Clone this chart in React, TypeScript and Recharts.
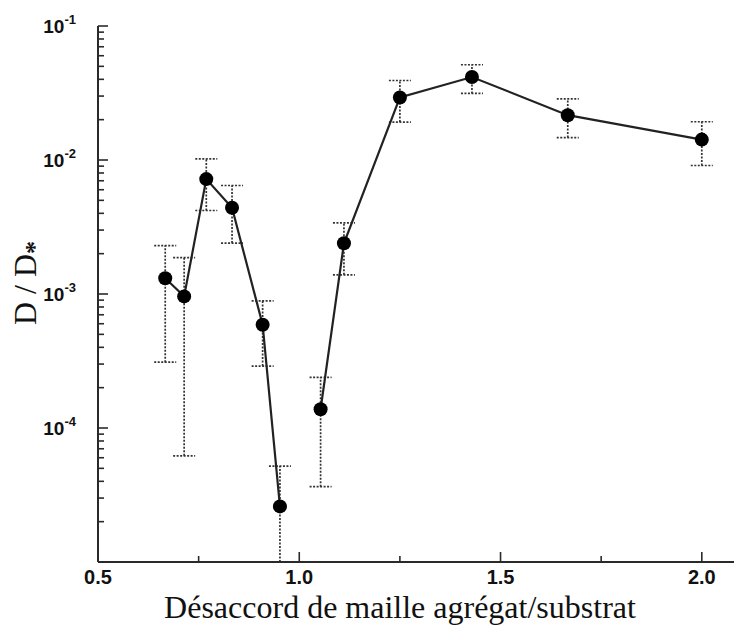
import React from "react";
import { ErrorBar, Line, LineChart, XAxis, YAxis } from "recharts";

// lattice mismatch (x) and D / D* (y), with lower / upper error bounds
const mismatch = [0.667, 0.714, 0.769, 0.833, 0.909, 0.952, 1.053, 1.111, 1.25, 1.429, 1.667, 2.0];
const ratio = [1.31e-3, 9.6e-4, 7.2e-3, 4.4e-3, 5.9e-4, 2.6e-5, 1.38e-4, 2.39e-3, 2.93e-2, 4.16e-2, 2.16e-2, 1.42e-2];
const ratioLow = [3.1e-4, 6.2e-5, 4.2e-3, 2.4e-3, 2.9e-4, 1e-5, 3.65e-5, 1.39e-3, 1.92e-2, 3.14e-2, 1.47e-2, 9.1e-3];
const ratioHigh = [2.3e-3, 1.87e-3, 1.02e-2, 6.45e-3, 8.9e-4, 5.2e-5, 2.39e-4, 3.4e-3, 3.92e-2, 5.14e-2, 2.86e-2, 1.93e-2];
const branch = [0, 0, 0, 0, 0, 0, 1, 1, 1, 1, 1, 1];

const xTicks = [0.5, 0.75, 1.0, 1.25, 1.5, 1.75, 2.0];
const xLabels = ["0.5", "", "1.0", "", "1.5", "", "2.0"];
const yDecades = [1e-5, 1e-4, 1e-3, 1e-2, 1e-1];
const yLabels = ["", "-4", "-3", "-2", "-1"];

const X_TITLE = "Désaccord de maille agrégat/substrat";

const points = mismatch.map((x, i) => ({
  x,
  y: ratio[i],
  err: [ratio[i] - ratioLow[i], ratioHigh[i] - ratio[i]],
  branch: branch[i],
}));
const leftPts = points.filter((p) => p.branch === 0);
const rightPts = points.filter((p) => p.branch === 1);

// log axis: decades plus 2..9 minor ticks
const yTicks: number[] = [];
yDecades.forEach((d, i) => {
  yTicks.push(d);
  if (i < yDecades.length - 1) for (let k = 2; k <= 9; k++) yTicks.push(+(d * k).toPrecision(3));
});

const AXIS = "#2a2a2a";
const SANS = "'Liberation Sans', Arial, sans-serif";
const SERIF = "'Liberation Serif', 'Times New Roman', serif";

function BottomTick({ x, y, payload }: any) {
  const i = xTicks.indexOf(payload.value);
  const label = xLabels[i] || "";
  const len = label ? 10 : 6;
  return (
    <g>
      <path d={`M${x},${y}L${x},${y - len}`} stroke={AXIS} strokeWidth={1.6} />
      {label && (
        <text x={x} y={y + 22} textAnchor="middle" fontFamily={SANS} fontWeight="bold" fontSize={20} fill="#111">
          {label}
        </text>
      )}
    </g>
  );
}

function TopTick({ x, y, payload }: any) {
  const i = xTicks.indexOf(payload.value);
  const len = xLabels[i] ? 9 : 5;
  return <path d={`M${x},${y}L${x},${y + len}`} stroke={AXIS} strokeWidth={1.6} />;
}

function LeftTick({ x, y, payload }: any) {
  const i = yDecades.findIndex((d) => Math.abs(d - payload.value) / d < 1e-6);
  const major = i >= 0;
  const exp = major ? yLabels[i] : "";
  return (
    <g>
      <path d={`M${x},${y}L${x + (major ? 10 : 6)},${y}`} stroke={AXIS} strokeWidth={1.6} />
      {exp && (
        <text x={x - 22} y={y + 7} textAnchor="end" fontFamily={SANS} fontWeight="bold" fill="#111">
          <tspan fontSize={19}>10</tspan>
          <tspan fontSize={13} dy={-9}>{exp}</tspan>
        </text>
      )}
    </g>
  );
}

export default function App() {
  const bar = <ErrorBar dataKey="err" direction="y" width={11} stroke="#333" strokeWidth={1.7} strokeDasharray="2 1.5" />;
  const dot = { r: 7, fill: "#000", stroke: "#000", strokeWidth: 0 };
  return (
    <div style={{ position: "absolute", left: 0, top: 0, background: "#fff" }}>
      <LineChart width={734} height={633} margin={{ top: 26, right: 0, bottom: 0, left: 0 }}>
        <XAxis
          dataKey="x"
          type="number"
          domain={[0.5, 2.08]}
          ticks={xTicks}
          interval={0}
          height={71}
          tickSize={0}
          tickMargin={0}
          tickLine={false}
          axisLine={{ stroke: AXIS, strokeWidth: 2 }}
          tick={<BottomTick />}
          allowDataOverflow
          label={{
            content: () => (
              <text x={400} y={618} textAnchor="middle" fontFamily={SERIF} fontSize={32} fill="#111">
                {X_TITLE}
              </text>
            ),
          }}
        />
        <XAxis
          xAxisId="top"
          orientation="top"
          type="number"
          domain={[0.5, 2.08]}
          ticks={xTicks}
          interval={0}
          height={0}
          tickSize={0}
          tickMargin={0}
          tickLine={false}
          axisLine={{ stroke: AXIS, strokeWidth: 2 }}
          tick={<TopTick />}
          allowDataOverflow
        />
        <YAxis
          type="number"
          scale="log"
          domain={[1e-5, 1e-1]}
          ticks={yTicks}
          interval={0}
          width={98}
          tickSize={0}
          tickMargin={0}
          tickLine={false}
          axisLine={{ stroke: AXIS, strokeWidth: 2 }}
          tick={<LeftTick />}
          allowDataOverflow
          label={{
            content: () => (
              <text x={36} y={283} transform="rotate(-90 36 283)" textAnchor="middle" fontFamily={SERIF} fontSize={32} fill="#111">
                D / D
                <tspan fontSize={26} fontWeight="bold" dy={7}>*</tspan>
              </text>
            ),
          }}
        />
        <Line data={leftPts} dataKey="y" stroke="#222" strokeWidth={2.2} dot={dot} activeDot={false} isAnimationActive={false}>
          {bar}
        </Line>
        <Line data={rightPts} dataKey="y" stroke="#222" strokeWidth={2.2} dot={dot} activeDot={false} isAnimationActive={false}>
          {bar}
        </Line>
      </LineChart>
    </div>
  );
}
